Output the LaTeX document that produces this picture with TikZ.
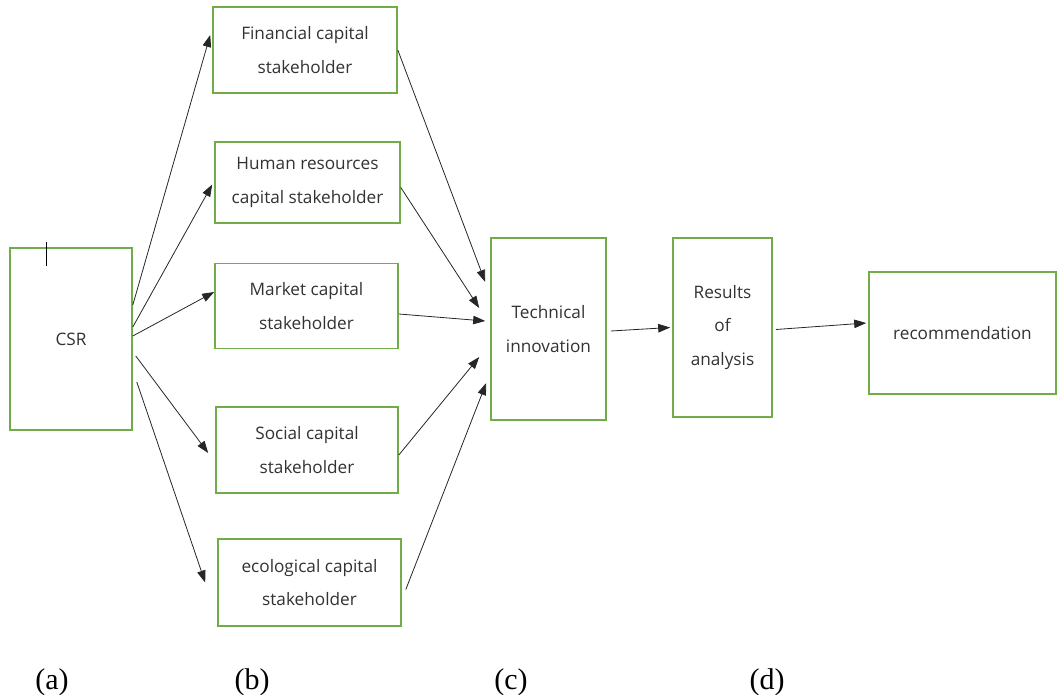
\documentclass[tikz,border=0pt]{standalone}
\usepackage{fontspec}
\newfontfamily\bodyfont{Open Sans}
\newfontfamily\tagfont{Liberation Serif}
\usetikzlibrary{arrows.meta}
\definecolor{boxgreen}{RGB}{112,173,71}
\definecolor{inkgray}{RGB}{50,50,50}

\begin{document}
\begin{tikzpicture}[x=1pt,y=-1pt,
  panel/.style={draw=boxgreen,line width=1.6pt,text=inkgray,align=center,
    inner sep=0pt,font=\bodyfont\fontsize{17.2}{33.5}\selectfont},
  link/.style={draw=black!85,line width=.8pt,-{Triangle[length=12pt,width=8.5pt]}},
  tag/.style={font=\tagfont\fontsize{30}{32}\selectfont,anchor=base}]
\useasboundingbox (0,0) rectangle (1060,695);

% Column (a): the firm.
\node[panel,minimum width=122,minimum height=182] (csr) at (71,339) {CSR};
\draw[black,line width=.8pt] (46,242) -- (46,266);

% Column (b): five kinds of stakeholder.
\node[panel,minimum width=184,minimum height=86] (fin) at (305,50)
  {Financial capital\\stakeholder};
\node[panel,minimum width=185,minimum height=81] (hum) at (307.5,182.5)
  {Human resources\\capital stakeholder};
\node[panel,minimum width=183,minimum height=85] (mkt) at (306.5,306)
  {Market capital\\stakeholder};
\node[panel,minimum width=182,minimum height=86] (soc) at (307,450)
  {Social capital\\stakeholder};
\node[panel,minimum width=183,minimum height=87] (eco) at (309.5,582.5)
  {ecological capital\\stakeholder};

% Columns (c) and (d).
\node[panel,minimum width=115,minimum height=182] (tech) at (548.5,329)
  {Technical\\innovation};
\node[panel,minimum width=99,minimum height=179] (res) at (722.5,327.5)
  {Results\\of\\analysis};
\node[panel,minimum width=187,minimum height=122] (rec) at (962.5,333)
  {recommendation};

% CSR fans out to the stakeholders.
\draw[link] ([yshift=34]csr.east) -- ([xshift=-2,yshift=15]fin.west);
\draw[link] ([yshift=12]csr.east) -- ([xshift=-2,yshift=-2]hum.west);
\draw[link] ([yshift=3]csr.east) -- ([yshift=14]mkt.west);
\draw[link] ([xshift=3,yshift=-17]csr.east) -- ([xshift=-7,yshift=-3]soc.west);
\draw[link] ([xshift=4,yshift=-43]csr.east) -- ([xshift=-12]eco.west);

% Stakeholders converge on innovation.
\draw[link] (fin.east) -- ([xshift=-5,yshift=47]tech.west);
\draw[link] ([yshift=-5]hum.east) -- ([xshift=-11,yshift=21]tech.west);
\draw[link] ([yshift=-8]mkt.east) -- ([xshift=-5,yshift=8]tech.west);
\draw[link] ([yshift=-5]soc.east) -- ([xshift=-11,yshift=-28]tech.west);
\draw[link] ([xshift=4,yshift=-7]eco.east) -- ([xshift=-4,yshift=-54]tech.west);
\draw[link] ([xshift=4,yshift=-2]tech.east) -- ([xshift=-2]res.west);
\draw[link] ([xshift=3,yshift=-2]res.east) -- ([xshift=-2,yshift=10]rec.west);

% Column tags.
\node[tag] (taga) at (52,689) {(a)};
\node[tag] (tagb) at (252,689) {(b)};
\node[tag] (tagc) at (511,689) {(c)};
\node[tag] (tagd) at (767,689) {(d)};
\end{tikzpicture}
\end{document}
